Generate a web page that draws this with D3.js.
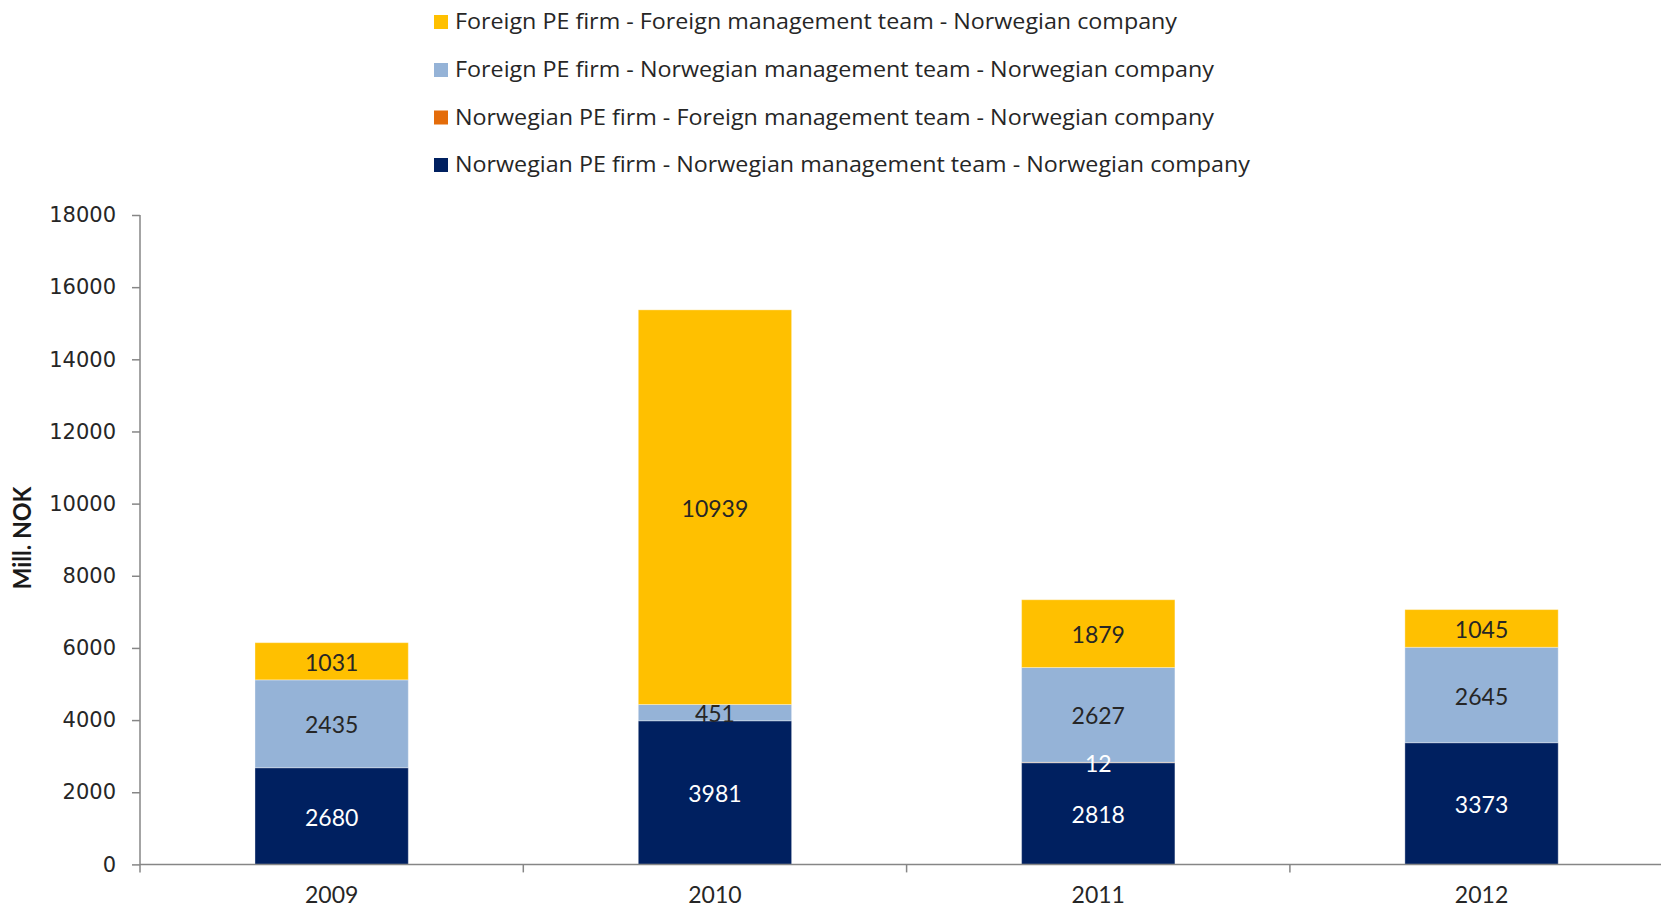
<!DOCTYPE html>
<html><head><meta charset="utf-8">
<script src="https://cdn.jsdelivr.net/npm/d3@7"></script>
<style>
html,body{margin:0;padding:0;background:#fff;}
svg{display:block;}
</style></head>
<body>
<svg id="chart" width="1661" height="910"></svg>
<script>
const years = ["2009", "2010", "2011", "2012"];
const seriesNames = [
  "Norwegian PE firm - Norwegian management team - Norwegian company",
  "Norwegian PE firm - Foreign management team - Norwegian company",
  "Foreign PE firm - Norwegian management team - Norwegian company",
  "Foreign PE firm - Foreign management team - Norwegian company"
];
const norNorNor = [2680, 3981, 2818, 3373];
const norForNor = [0, 0, 12, 0];
const forNorNor = [2435, 451, 2627, 2645];
const forForNor = [1031, 10939, 1879, 1045];
const yTicks = [0, 2000, 4000, 6000, 8000, 10000, 12000, 14000, 16000, 18000];
const colors = ["#002060", "#E46C0A", "#95B3D7", "#FFC000"];
const labelColors = ["#ffffff", "#ffffff", "#262626", "#262626"];
const legendOrder = [3, 2, 1, 0];

const seriesValues = [norNorNor, norForNor, forNorNor, forForNor];
const rows = years.map((y, i) => {
  const r = {year: y};
  seriesNames.forEach((s, k) => r[s] = seriesValues[k][i]);
  return r;
});

const svg = d3.select("#chart");
const x0 = 140, step = 383.3;
const x = d3.scaleBand().domain(years).range([x0, x0 + step * years.length]).padding(0);
const y = d3.scaleLinear().domain([0, 18000]).range([864.4, 215]);
const barW = x.bandwidth() * 0.4;

const stack = d3.stack().keys(seriesNames);
const stacked = stack(rows);

const g = svg.append("g");
stacked.forEach((layer, k) => {
  g.selectAll(null).data(layer).enter().append("rect")
    .attr("x", d => x(d.data.year) + (x.bandwidth() - barW) / 2)
    .attr("width", barW)
    .attr("y", d => y(d[1]))
    .attr("height", d => Math.max(0, y(d[0]) - y(d[1])))
    .attr("fill", colors[k])
    .attr("stroke", "rgba(255,255,255,0.35)")
    .attr("stroke-width", 1);
});

// data labels
stacked.forEach((layer, k) => {
  g.selectAll(null).data(layer.filter(d => d[1] - d[0] > 0)).enter().append("text")
    .attr("x", d => x(d.data.year) + x.bandwidth() / 2)
    .attr("y", d => y((d[0] + d[1]) / 2) + 1.5)
    .attr("dy", "0.35em")
    .attr("text-anchor", "middle")
    .attr("font-family", "Lato, 'Open Sans', sans-serif")
    .attr("font-size", 23)
    .attr("fill", labelColors[k])
    .text(d => d[1] - d[0]);
});

// y axis
const yAxis = d3.axisLeft(y).tickValues(yTicks).tickSize(8).tickPadding(16).tickFormat(d3.format("d"));
const ya = svg.append("g").attr("transform", `translate(${x0},0)`).call(yAxis);
ya.select(".domain").attr("stroke", "#868686").attr("stroke-width", 1.5).attr("d", `M0,${y(18000)}V${y(0) + 8}`);
ya.selectAll(".tick line").attr("stroke", "#868686").attr("stroke-width", 1.5);
ya.selectAll(".tick text").attr("font-family", "'DejaVu Sans', sans-serif").attr("font-size", 21).attr("fill", "#262626");

// x axis
const boundaries = years.map(d => x(d)).concat([x0 + step * years.length]);
const xa = svg.append("g");
xa.append("line").attr("x1", x0).attr("x2", 1661).attr("y1", y(0)).attr("y2", y(0))
  .attr("stroke", "#868686").attr("stroke-width", 1.5);
xa.selectAll(null).data(boundaries.slice(1)).enter().append("line")
  .attr("x1", d => d).attr("x2", d => d).attr("y1", y(0)).attr("y2", y(0) + 8)
  .attr("stroke", "#868686").attr("stroke-width", 1.5);
xa.selectAll(null).data(years).enter().append("text")
  .attr("x", d => x(d) + x.bandwidth() / 2)
  .attr("y", 902.5)
  .attr("text-anchor", "middle")
  .attr("font-family", "Lato, 'Open Sans', sans-serif")
  .attr("font-size", 23)
  .attr("fill", "#262626")
  .text(d => d);

// y title
svg.append("text")
  .attr("transform", "translate(23,538) rotate(-90)")
  .attr("dy", "0.35em")
  .attr("text-anchor", "middle")
  .attr("font-family", "Lato, sans-serif")
  .attr("font-weight", 700)
  .attr("font-size", 24)
  .attr("textLength", 103)
  .attr("lengthAdjust", "spacingAndGlyphs")
  .attr("fill", "#1a1a1a")
  .text("Mill. NOK");

// legend
const legendY = [22, 70, 117.5, 165];
const legendW = [722, 759, 759, 795];
const lg = svg.append("g");
legendOrder.forEach((k, i) => {
  lg.append("rect").attr("x", 434).attr("y", legendY[i] - 7).attr("width", 14).attr("height", 14).attr("fill", colors[k]);
  lg.append("text").attr("x", 455).attr("y", legendY[i]).attr("dy", "0.35em")
    .attr("font-family", "'Open Sans', Lato, sans-serif").attr("font-size", 21).attr("fill", "#262626")
    .attr("textLength", legendW[i]).attr("lengthAdjust", "spacingAndGlyphs")
    .text(seriesNames[k]);
});
</script>
</body></html>
